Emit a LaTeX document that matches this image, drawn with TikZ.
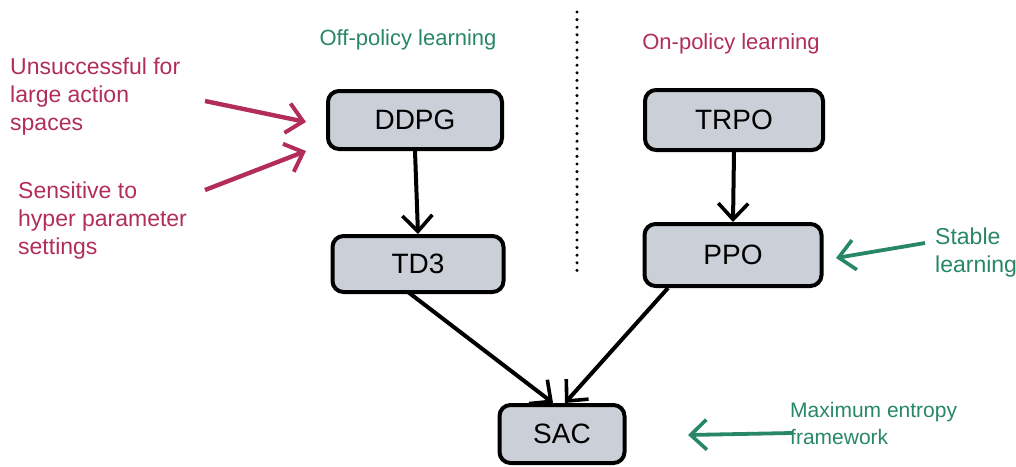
\documentclass[tikz,border=0pt]{standalone}
\usepackage{fontspec}
\setmainfont{Liberation Sans}
\usetikzlibrary{arrows.meta}
\definecolor{mygreen}{RGB}{40,135,100}
\definecolor{mycrimson}{RGB}{178,45,90}
\definecolor{boxfill}{RGB}{203,208,216}
\begin{document}
\begin{tikzpicture}[x=1pt,y=-1pt,
  algbox/.style={draw=black,line width=4pt,fill=boxfill,rounded corners=11pt,
    minimum height=58pt,inner sep=0pt,font=\fontsize{28}{30}\selectfont},
  flow/.style={draw=black,line width=4pt,-{Straight Barb[length=16pt,width=30pt,line width=3.6pt]}},
  redarrow/.style={draw=mycrimson,line width=4.4pt,-{Straight Barb[length=16pt,width=30pt,line width=4pt]}},
  greenarrow/.style={draw=mygreen,line width=3.8pt,-{Straight Barb[length=16pt,width=30pt,line width=3.6pt]}},
  note/.style={align=left,anchor=north west,inner sep=0pt,font=\fontsize{23}{28}\selectfont}
]
\useasboundingbox (0,0) rectangle (1016,466);
\node[algbox,minimum width=174pt] (ddpg) at (415,120) {DDPG};
\node[algbox,minimum width=171pt,minimum height=56pt] (td3) at (418,264) {TD3};
\node[algbox,minimum width=178pt,minimum height=60pt] (trpo) at (734,120) {TRPO};
\node[algbox,minimum width=177pt,minimum height=62pt] (ppo) at (733,255) {PPO};
\node[algbox,minimum width=125pt,minimum height=58pt] (sac) at (562,434) {SAC};

\node[text=mygreen,font=\fontsize{22}{24}\selectfont] (off) at (408,40) {Off-policy learning};
\node[text=mycrimson,font=\fontsize{22}{24}\selectfont] (on) at (731,44) {On-policy learning};

\coordinate (dtop) at (577,12);
\coordinate (dbot) at (577,274);
\draw[line width=3.4pt,line cap=round,dash pattern=on 0pt off 7.6pt] (dtop) -- (dbot);

\node[note,text=mycrimson] (uns) at (10,58) {Unsuccessful for\\large action\\spaces};
\node[note,text=mycrimson] (sens) at (18,182) {Sensitive to\\hyper parameter\\settings};
\node[note,text=mygreen] (stab) at (935,228) {Stable\\learning};
\node[note,text=mygreen,font=\fontsize{21}{27}\selectfont] (maxe) at (790,402) {Maximum entropy\\framework};

\coordinate (r1s) at (205,101);
\coordinate (r1e) at (306,122);
\coordinate (r2s) at (205,190);
\coordinate (r2e) at (306,151);
\draw[redarrow] (r1s) -- (r1e);
\draw[redarrow] (r2s) -- (r2e);

\coordinate (g1s) at (925,243);
\coordinate (g1e) at (836,258);
\draw[greenarrow] (g1s) -- (g1e);
\coordinate (g2s) at (792,433);
\coordinate (g2e) at (688,435);
\draw[greenarrow] (g2s) -- (g2e);

\draw[flow] (ddpg.south) -- (td3.north);
\draw[flow] (trpo.south) -- (ppo.north);
\coordinate (t3out) at (408,292);
\coordinate (ppout) at (668,288);
\coordinate (sacin1) at (553,403);
\coordinate (sacin2) at (565,403);
\draw[flow] (t3out) -- (sacin1);
\draw[flow] (ppout) -- (sacin2);
\end{tikzpicture}
\end{document}
